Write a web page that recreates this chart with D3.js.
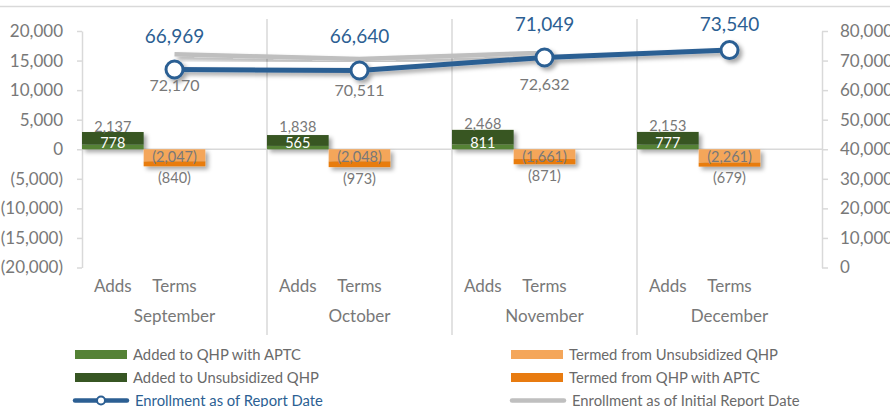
<!DOCTYPE html>
<html>
<head>
<meta charset="utf-8">
<script src="https://cdn.jsdelivr.net/npm/d3@7"></script>
<style>
  body { margin: 0; background: #fff; }
  svg { font-family: Lato, "Open Sans", sans-serif; }
</style>
</head>
<body>
<svg width="890" height="407"></svg>
<script>
// data
var months = ["September", "October", "November", "December"];
var subCats = ["Adds", "Terms", ""];
var addedAPTC = [778, 565, 811, 777];
var addedUnsub = [2137, 1838, 2468, 2153];
var termedUnsub = [-2047, -2048, -1661, -2261];
var termedAPTC = [-840, -973, -871, -679];
var enrollment = [66969, 66640, 71049, 73540];
var enrollmentInitial = [72170, 70511, 72632, null];
var leftTicks = [-20000, -15000, -10000, -5000, 0, 5000, 10000, 15000, 20000];
var rightTicks = [0, 10000, 20000, 30000, 40000, 50000, 60000, 70000, 80000];

var svg = d3.select("svg"),
    width = +svg.attr("width"),
    height = +svg.attr("height");

var colors = {
  addedAPTC: "#548235",
  addedUnsub: "#375623",
  termedUnsub: "#F4A65A",
  termedAPTC: "#E87B10",
  blue: "#2C5F93",
  grey: "#BFBFBF",
  text: "#787878",
  legend: "#6A6A6A",
  line: "#D9D9D9"
};

// shadow like excel
var f = svg.append("defs").append("filter")
    .attr("id", "shadow").attr("x", "-20%").attr("y", "-20%")
    .attr("width", "150%").attr("height", "160%");
f.append("feDropShadow")
    .attr("dx", 3).attr("dy", 3).attr("stdDeviation", 2)
    .attr("flood-color", "#000").attr("flood-opacity", 0.35);

var x0 = d3.scaleBand().domain(months).range([82, 822]).padding(0);
var x1 = d3.scaleBand().domain(subCats).range([0, x0.bandwidth()]).padding(0);
var yL = d3.scaleLinear().domain([-20000, 20000]).range([267.5, 31]);
var yR = d3.scaleLinear().domain([0, 80000]).range([267.5, 31]);

function fmt(v) {
  var s = d3.format(",")(Math.abs(v));
  return v < 0 ? "(" + s + ")" : s;
}

// top border of chart
svg.append("line").attr("x1", 0).attr("x2", width).attr("y1", 6.5).attr("y2", 6.5)
    .attr("stroke", "#D9D9D9").attr("stroke-width", 1.5);

// category dividers
svg.selectAll(".divider")
    .data(months.slice(1))
    .enter().append("line")
    .attr("class", "divider")
    .attr("x1", function (d) { return x0(d); })
    .attr("x2", function (d) { return x0(d); })
    .attr("y1", 19).attr("y2", 335)
    .attr("stroke", colors.line).attr("stroke-width", 1.5);

// zero line
svg.append("line").attr("x1", 82).attr("x2", 822)
    .attr("y1", yL(0)).attr("y2", yL(0))
    .attr("stroke", colors.line).attr("stroke-width", 1.5);

// axes
var axL = svg.append("g").attr("transform", "translate(82,0)")
    .call(d3.axisLeft(yL).tickValues(leftTicks).tickFormat(fmt).tickSize(5).tickPadding(14).tickSizeOuter(0));
var axR = svg.append("g").attr("transform", "translate(822,0)")
    .call(d3.axisRight(yR).tickValues(rightTicks).tickFormat(d3.format(",")).tickSize(6).tickPadding(12).tickSizeOuter(0));
[axL, axR].forEach(function (ax) {
  ax.select(".domain").attr("stroke", colors.line).attr("stroke-width", 1.5);
  ax.selectAll(".tick line").attr("stroke", colors.line).attr("stroke-width", 1.5);
  ax.selectAll(".tick text").attr("fill", colors.text).style("font-size", "17px")
      .style("font-family", "Lato, sans-serif");
});

// stacked bars
var keys = ["addedAPTC", "addedUnsub", "termedUnsub", "termedAPTC"];
var rows = [];
months.forEach(function (m, i) {
  rows.push({ month: m, sub: "Adds", addedAPTC: addedAPTC[i], addedUnsub: addedUnsub[i], termedUnsub: 0, termedAPTC: 0 });
  rows.push({ month: m, sub: "Terms", addedAPTC: 0, addedUnsub: 0, termedUnsub: termedUnsub[i], termedAPTC: termedAPTC[i] });
});
var series = d3.stack().keys(keys).offset(d3.stackOffsetDiverging)(rows);

var barG = svg.append("g").attr("filter", "url(#shadow)");
series.forEach(function (s) {
  barG.selectAll(".bar-" + s.key)
      .data(s.filter(function (d) { return d[1] !== d[0]; }))
      .enter().append("rect")
      .attr("x", function (d) { return x0(d.data.month) + x1(d.data.sub); })
      .attr("width", x1.bandwidth())
      .attr("y", function (d) { return yL(Math.max(d[0], d[1])); })
      .attr("height", function (d) { return Math.abs(yL(d[0]) - yL(d[1])); })
      .attr("fill", colors[s.key]);
});

// bar labels
var lab = svg.append("g").attr("text-anchor", "middle").style("font-size", "14.5px");
rows.forEach(function (r) {
  var cx = x0(r.month) + x1(r.sub) + x1.bandwidth() / 2;
  if (r.sub === "Adds") {
    lab.append("text").attr("x", cx)
        .attr("y", Math.min(yL(r.addedAPTC + r.addedUnsub) - 0.5, yL(0) - 17.5))
        .attr("fill", colors.text).text(fmt(r.addedUnsub));
    lab.append("text").attr("x", cx).attr("y", yL(0) - 1)
        .attr("fill", "#fff").text(fmt(r.addedAPTC));
  } else {
    lab.append("text").attr("x", cx).attr("y", yL(0) + 13)
        .attr("fill", colors.text).text(fmt(r.termedUnsub));
    lab.append("text").attr("x", cx).attr("y", yL(r.termedUnsub + r.termedAPTC) + 16.5)
        .attr("fill", colors.text).text(fmt(r.termedAPTC));
  }
});

// lines sit on the Terms slot
function px(i) { return x0(months[i]) + x1("Terms") + x1.bandwidth() / 2; }

var enrollLine = d3.line()
    .defined(function (d) { return d != null; })
    .x(function (d, i) { return px(i); })
    .y(function (d) { return yR(d); });

svg.append("path").datum(enrollmentInitial)
    .attr("d", enrollLine).attr("fill", "none")
    .attr("stroke", colors.grey).attr("stroke-width", 4.5)
    .attr("filter", "url(#shadow)");

var blueG = svg.append("g").attr("filter", "url(#shadow)");
blueG.append("path").datum(enrollment)
    .attr("d", enrollLine).attr("fill", "none")
    .attr("stroke", colors.blue).attr("stroke-width", 5);
blueG.selectAll("circle").data(enrollment).enter().append("circle")
    .attr("cx", function (d, i) { return px(i); })
    .attr("cy", function (d) { return yR(d); })
    .attr("r", 8.5).attr("fill", "#fff")
    .attr("stroke", colors.blue).attr("stroke-width", 3);

// line labels
svg.selectAll(".lbl-blue").data(enrollment).enter().append("text")
    .attr("x", function (d, i) { return px(i); })
    .attr("y", function (d) { return Math.max(31, yR(d) - 27); })
    .attr("text-anchor", "middle").attr("fill", colors.blue)
    .style("font-size", "19px").text(fmt);

svg.selectAll(".lbl-grey").data(enrollmentInitial.filter(function (d) { return d != null; }))
    .enter().append("text")
    .attr("x", function (d, i) { return px(i); })
    .attr("y", function (d) { return yR(d) + 37; })
    .attr("text-anchor", "middle").attr("fill", colors.text)
    .style("font-size", "16px").text(fmt);

// category axis labels
var catG = svg.append("g").attr("text-anchor", "middle").attr("fill", colors.text).style("font-size", "17px");
months.forEach(function (m) {
  ["Adds", "Terms"].forEach(function (s) {
    catG.append("text").attr("x", x0(m) + x1(s) + x1.bandwidth() / 2).attr("y", 292).text(s);
  });
  catG.append("text").attr("x", x0(m) + x0.bandwidth() / 2).attr("y", 322).text(m);
});

// legend
var legendItems = [
  { name: "Added to QHP with APTC", key: "addedAPTC", x: 75, y: 354.5, type: "rect" },
  { name: "Termed from Unsubsidized QHP", key: "termedUnsub", x: 511, y: 354.5, type: "rect" },
  { name: "Added to Unsubsidized QHP", key: "addedUnsub", x: 75, y: 377.5, type: "rect" },
  { name: "Termed from QHP with APTC", key: "termedAPTC", x: 511, y: 377.5, type: "rect" },
  { name: "Enrollment as of Report Date", key: "blue", x: 73, y: 400.5, type: "marker" },
  { name: "Enrollment as of Initial Report Date", key: "grey", x: 510, y: 400.5, type: "line" }
];
var lg = svg.append("g").style("font-size", "14.8px");
legendItems.forEach(function (d) {
  var g = lg.append("g");
  var tx;
  if (d.type === "rect") {
    g.append("rect").attr("x", d.x).attr("y", d.y - 4.5).attr("width", 52).attr("height", 9)
        .attr("fill", colors[d.key]);
    tx = d.x + 58;
  } else {
    g.append("line").attr("x1", d.x + 2).attr("x2", d.x + 54).attr("y1", d.y).attr("y2", d.y)
        .attr("stroke", colors[d.key]).attr("stroke-width", 4.5).attr("stroke-linecap", "round");
    if (d.type === "marker") {
      g.append("circle").attr("cx", d.x + 28).attr("cy", d.y).attr("r", 4)
          .attr("fill", "#fff").attr("stroke", colors.blue).attr("stroke-width", 2);
    }
    tx = d.x + 62;
  }
  g.append("text").attr("x", tx).attr("y", d.y).attr("dy", "0.35em")
      .attr("fill", d.key === "blue" ? colors.blue : colors.legend).text(d.name);
});
</script>
</body>
</html>
